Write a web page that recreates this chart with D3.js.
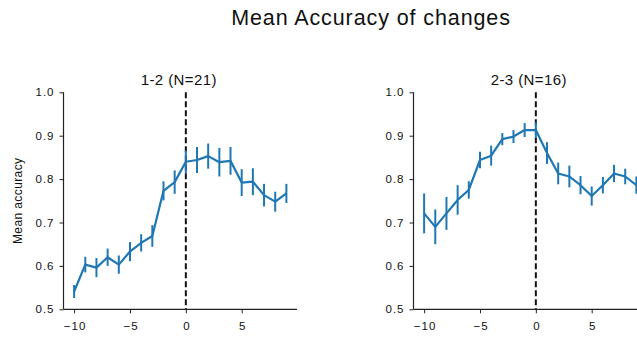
<!DOCTYPE html>
<html>
<head>
<meta charset="utf-8">
<script src="https://cdn.jsdelivr.net/npm/d3@7"></script>
<style>
  body { margin: 0; background: #fff; }
  svg { display: block; font-family: "Liberation Sans", Arial, Helvetica, sans-serif; }
</style>
</head>
<body>
<div id="chart"></div>
<script>
// lags relative to the change
const lags = d3.range(-10, 10);

// panel 1-2
const meanA = [0.541, 0.603, 0.596, 0.620, 0.603, 0.633, 0.653, 0.669, 0.773, 0.793,
               0.840, 0.844, 0.853, 0.839, 0.842, 0.792, 0.794, 0.763, 0.748, 0.767];
const errA  = [0.015, 0.018, 0.022, 0.020, 0.021, 0.022, 0.020, 0.025, 0.022, 0.027,
               0.026, 0.030, 0.029, 0.033, 0.032, 0.031, 0.031, 0.026, 0.023, 0.022];

// panel 2-3
const meanB = [0.721, 0.690, 0.721, 0.752, 0.775, 0.844, 0.854, 0.892, 0.898, 0.913,
               0.913, 0.860, 0.813, 0.806, 0.786, 0.761, 0.786, 0.813, 0.806, 0.786];
const errB  = [0.046, 0.040, 0.038, 0.034, 0.020, 0.019, 0.023, 0.014, 0.015, 0.016,
               0.018, 0.025, 0.025, 0.025, 0.021, 0.022, 0.019, 0.020, 0.018, 0.020];

const panelTitles = ["1-2 (N=21)", "2-3 (N=16)"];
const xTicks = [-10, -5, 0, 5];
const yTicks = [0.5, 0.6, 0.7, 0.8, 0.9, 1.0];

const W = 637, H = 338;
const blue = "#1f77b4";

const svg = d3.select("#chart").append("svg")
  .attr("width", W).attr("height", H);

svg.append("text")
  .attr("x", 371).attr("y", 25)
  .attr("text-anchor", "middle")
  .attr("font-size", 21.5)
  .attr("letter-spacing", 0.9)
  .attr("fill", "#111")
  .text("Mean Accuracy of changes");

const panels = [
  {left: 63.5, mean: meanA, err: errA, title: panelTitles[0]},
  {left: 413.5, mean: meanB, err: errB, title: panelTitles[1]}
];

const plotW = 233.5;
const y = d3.scaleLinear().domain([0.5, 1.0]).range([309.3, 92.3]);

panels.forEach(function(p, i) {
  const x = d3.scaleLinear().domain([-10.95, 9.95]).range([p.left, p.left + plotW]);
  const g = svg.append("g");

  // axes
  const xa = g.append("g")
    .attr("transform", "translate(0," + y(0.5) + ")")
    .call(d3.axisBottom(x).tickValues(xTicks).tickSize(4).tickPadding(8.5)
      .tickFormat(d => d < 0 ? "\u2212" + Math.abs(d) : d));
  const ya = g.append("g")
    .attr("transform", "translate(" + p.left + ",0)")
    .call(d3.axisLeft(y).tickValues(yTicks).tickSize(4).tickPadding(5)
      .tickFormat(d3.format(".1f")));
  [xa, ya].forEach(a => {
    a.select(".domain").attr("stroke", "#222").attr("stroke-width", 1.2);
    a.selectAll(".tick line").attr("stroke", "#222").attr("stroke-width", 1);
    a.selectAll(".tick text").attr("font-size", 11.5).attr("fill", "#111")
      .attr("letter-spacing", 1)
      .attr("font-family", "Liberation Sans, Arial, sans-serif");
  });
  xa.selectAll(".tick text").attr("dx", 0.5);
  // plain spines without end caps
  xa.select(".domain").attr("d", "M" + p.left + ",0H" + (p.left + plotW));
  ya.select(".domain").attr("d", "M0," + y(0.5) + "V" + y(1.0));

  // dashed change line
  g.append("line")
    .attr("x1", x(0)).attr("x2", x(0))
    .attr("y1", y(1.0)).attr("y2", y(0.5))
    .attr("stroke", "#111").attr("stroke-width", 2)
    .attr("stroke-dasharray", "6,3");

  // error bars
  g.selectAll(".err").data(lags).enter().append("line")
    .attr("class", "err")
    .attr("x1", d => x(d)).attr("x2", d => x(d))
    .attr("y1", (d, k) => y(p.mean[k] - p.err[k]))
    .attr("y2", (d, k) => y(p.mean[k] + p.err[k]))
    .attr("stroke", blue).attr("stroke-width", 2);

  // mean line
  g.append("path")
    .datum(lags)
    .attr("fill", "none")
    .attr("stroke", blue).attr("stroke-width", 2.2)
    .attr("stroke-linejoin", "round")
    .attr("d", d3.line().x(d => x(d)).y((d, k) => y(p.mean[k])));

  // panel title
  g.append("text")
    .attr("x", p.left + plotW / 2 - 1.5).attr("y", 85)
    .attr("text-anchor", "middle")
    .attr("font-size", 15).attr("letter-spacing", 0.4).attr("fill", "#111")
    .text(p.title);

  if (i === 0) {
    g.append("text")
      .attr("transform", "translate(22," + ((y(0.5) + y(1.0)) / 2) + ") rotate(-90)")
      .attr("text-anchor", "middle")
      .attr("font-size", 12).attr("letter-spacing", 0.4).attr("fill", "#111")
      .text("Mean accuracy");
  }
});
</script>
</body>
</html>
